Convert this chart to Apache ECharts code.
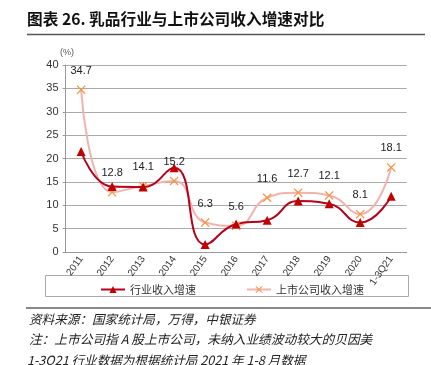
<!DOCTYPE html>
<html><head><meta charset="utf-8">
<script src="https://cdn.jsdelivr.net/npm/echarts@6/dist/echarts.min.js"></script>
<style>html,body{margin:0;padding:0;background:#fff;}#c{width:431px;height:365px;}</style>
</head><body><div id="c"></div>
<script>
const categories = ['2011','2012','2013','2014','2015','2016','2017','2018','2019','2020','1-3Q21'];
const industryGrowth = [21.5, 14.0, 13.9, 18.0, 1.6, 6.0, 6.8, 10.9, 10.3, 6.3, 11.9];
const listedGrowth = [34.7, 12.8, 14.1, 15.2, 6.3, 5.6, 11.6, 12.7, 12.1, 8.1, 18.1];
const seriesNames = ['行业收入增速', '上市公司收入增速'];
const titleText = '图表 26. 乳品行业与上市公司收入增速对比';
const unitText = '(%)';
const footLines = ['资料来源：国家统计局，万得，中银证券', '注：上市公司指 A 股上市公司，未纳入业绩波动较大的贝因美', '1-3Q21 行业数据为根据统计局 2021 年 1-8 月数据'];

const chart = echarts.init(document.getElementById('c'));
const xShape = 'path://M0,1L1,0L5,4L9,0L10,1L6,5L10,9L9,10L5,6L1,10L0,9L4,5Z';
chart.setOption({
  animation: false,
  textStyle: {fontFamily: 'Liberation Sans, Arial, sans-serif'},
  grid: {left: 65.6, right: 24.3, top: 65, bottom: 113},
  xAxis: {
    type: 'category', data: categories, boundaryGap: true,
    axisLine: {lineStyle: {color: '#999'}},
    axisTick: {length: 4, lineStyle: {color: '#999'}},
    axisLabel: {rotate: 55, fontSize: 10, color: '#333', margin: 5, interval: 0}
  },
  yAxis: {
    type: 'value', min: 0, max: 40, interval: 5,
    axisLine: {show: true, lineStyle: {color: '#999'}},
    axisTick: {show: true, length: 3, lineStyle: {color: '#999'}},
    splitLine: {lineStyle: {color: '#aaa', width: 1}},
    axisLabel: {fontSize: 11, color: '#333', margin: 7}
  },
  legend: {
    left: 95, top: 279, itemWidth: 24, itemHeight: 9, itemGap: 50,
    textStyle: {fontFamily: 'Noto Sans CJK SC', fontSize: 11, color: '#333'},
    data: seriesNames
  },
  series: [
    {
      name: seriesNames[1], type: 'line', data: listedGrowth, smooth: 0.5,
      symbol: xShape, symbolSize: 9,
      lineStyle: {color: '#F2B3AE', width: 2},
      itemStyle: {color: '#F79646'},
      label: {show: true, position: 'top', distance: 9, fontSize: 11, color: '#222'}
    },
    {
      name: seriesNames[0], type: 'line', data: industryGrowth, smooth: 0.5,
      symbol: 'triangle', symbolSize: 9,
      lineStyle: {color: '#B5001C', width: 2},
      itemStyle: {color: '#C00000'}
    }
  ],
  graphic: [
    {type: 'text', left: 27, top: 11, style: {text: titleText, font: 'bold 15.7px "Noto Sans CJK SC"', fill: '#111'}},
    {type: 'line', shape: {x1: 27, y1: 34.5, x2: 425, y2: 34.5}, style: {stroke: '#555', lineWidth: 1.5}},
    {type: 'text', left: 60, top: 48, style: {text: unitText, fontSize: 9, fill: '#555'}},
    {type: 'rect', shape: {x: 45.5, y: 275.5, width: 363, height: 21}, style: {fill: 'none', stroke: '#aaa', lineWidth: 1}, z: -1},
    {type: 'line', shape: {x1: 26, y1: 308, x2: 431, y2: 308}, style: {stroke: '#888', lineWidth: 2}},
    {type: 'text', left: 29, top: 313, style: {text: footLines[0], font: 'italic 12.6px "Noto Sans CJK SC"', fill: '#222'}},
    {type: 'text', left: 29, top: 333, style: {text: footLines[1], font: 'italic 12.7px "Noto Sans CJK SC"', fill: '#222'}},
    {type: 'text', left: 27, top: 354, style: {text: footLines[2], font: 'italic 12.6px "Noto Sans CJK SC"', fill: '#222'}}
  ]
});
</script></body></html>
